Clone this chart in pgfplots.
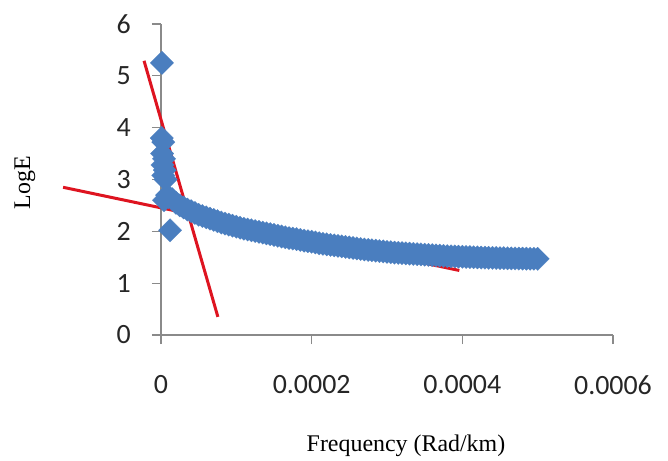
\documentclass[border=0pt]{standalone}
\usepackage{pgfplots}
\pgfplotsset{compat=1.18}
\usepackage{fontspec}
\setmainfont{Liberation Serif}
\newfontfamily\calib{Carlito}
\definecolor{ptblue}{HTML}{4A7EBF}
\definecolor{trendred}{RGB}{222,20,32}
\definecolor{axgray}{HTML}{8A8A8A}
\begin{document}
\begin{tikzpicture}
\path[use as bounding box] (-161bp,-126bp) rectangle (507bp,335bp);
\begin{axis}[
  at={(0,0)}, anchor=origin,
  scale only axis, width=452bp, height=311bp,
  xmin=0, xmax=0.0006, ymin=0, ymax=6,
  clip=false,
  axis lines=left,
  axis line style={-, draw=axgray, line width=1.1bp},
  tick style={draw=axgray, line width=1.1bp},
  tick align=outside,
  major tick length=9bp,
  xtick={0,0.0002,0.0004,0.0006},
  xticklabels={0,0.0002,0.0004,0.0006},
  ytick={0,1,2,3,4,5,6},
  scaled x ticks=false,
  /pgf/number format/assume math mode=true,
  tick label style={font=\calib\fontsize{28}{28}\selectfont, text=black!85},
  xticklabel style={anchor=north, inner sep=0pt, yshift=-31bp},
  yticklabel style={anchor=east, inner sep=0pt, xshift=-21bp},
  xlabel={Frequency (Rad/km)},
  ylabel={LogE},
  label style={font=\fontsize{24}{24}\selectfont},
  xlabel style={at={(axis description cs:0.542,-0.376)}, anchor=base},
  ylabel style={at={(axis description cs:-0.301,0.49)}, anchor=center},
]
\addplot[ptblue, only marks, mark=square*, mark size=8.3bp,
  mark options={rotate=45, fill=ptblue, draw=ptblue, line width=0.1bp}]
  table[row sep=\\] {
x y\\
1.2e-6 5.25\\
1.0e-6 3.80\\
3.0e-6 3.72\\
1.5e-6 3.50\\
4.0e-6 3.40\\
2.0e-6 3.28\\
5.0e-6 3.18\\
3.0e-6 3.08\\
6.0e-6 3.00\\
1.2e-5 2.02\\
4.0e-6 2.60\\
8.0e-6 2.70\\
1.0e-5 2.66\\
1.5e-5 2.62\\
2.0e-5 2.55\\
2.5e-5 2.50\\
3.0e-5 2.46\\
3.5e-5 2.42\\
4.0e-5 2.39\\
4.5e-5 2.355\\
5.0e-5 2.32\\
5.5e-5 2.295\\
6.0e-5 2.27\\
6.5e-5 2.245\\
7.0e-5 2.22\\
7.5e-5 2.195\\
8.0e-5 2.17\\
8.5e-5 2.15\\
9.0e-5 2.13\\
9.5e-5 2.11\\
1.00e-4 2.09\\
1.05e-4 2.07\\
1.10e-4 2.05\\
1.15e-4 2.035\\
1.20e-4 2.02\\
1.25e-4 2.005\\
1.30e-4 1.99\\
1.35e-4 1.975\\
1.40e-4 1.96\\
1.45e-4 1.945\\
1.50e-4 1.93\\
1.55e-4 1.915\\
1.60e-4 1.90\\
1.65e-4 1.885\\
1.70e-4 1.87\\
1.75e-4 1.86\\
1.80e-4 1.85\\
1.85e-4 1.835\\
1.90e-4 1.82\\
1.95e-4 1.81\\
2.00e-4 1.80\\
2.05e-4 1.785\\
2.10e-4 1.77\\
2.15e-4 1.76\\
2.20e-4 1.75\\
2.25e-4 1.74\\
2.30e-4 1.73\\
2.35e-4 1.72\\
2.40e-4 1.71\\
2.45e-4 1.70\\
2.50e-4 1.69\\
2.55e-4 1.68\\
2.60e-4 1.67\\
2.65e-4 1.66\\
2.70e-4 1.65\\
2.75e-4 1.642\\
2.80e-4 1.635\\
2.85e-4 1.627\\
2.90e-4 1.62\\
2.95e-4 1.612\\
3.00e-4 1.605\\
3.05e-4 1.597\\
3.10e-4 1.59\\
3.15e-4 1.585\\
3.20e-4 1.58\\
3.25e-4 1.575\\
3.30e-4 1.57\\
3.35e-4 1.565\\
3.40e-4 1.56\\
3.45e-4 1.555\\
3.50e-4 1.55\\
3.55e-4 1.545\\
3.60e-4 1.54\\
3.65e-4 1.535\\
3.70e-4 1.53\\
3.75e-4 1.526\\
3.80e-4 1.522\\
3.85e-4 1.518\\
3.90e-4 1.515\\
3.95e-4 1.512\\
4.00e-4 1.51\\
4.05e-4 1.506\\
4.10e-4 1.503\\
4.15e-4 1.50\\
4.20e-4 1.497\\
4.25e-4 1.494\\
4.30e-4 1.492\\
4.35e-4 1.49\\
4.40e-4 1.488\\
4.45e-4 1.486\\
4.50e-4 1.484\\
4.55e-4 1.482\\
4.60e-4 1.48\\
4.65e-4 1.478\\
4.70e-4 1.477\\
4.75e-4 1.475\\
4.80e-4 1.474\\
4.85e-4 1.473\\
4.90e-4 1.472\\
4.95e-4 1.471\\
5.00e-4 1.47\\
};
\addplot[trendred, line width=3bp] coordinates {(-0.00013,2.85) (0.000396,1.245)};
\addplot[trendred, line width=3bp] coordinates {(-0.0000225,5.29) (0.0000755,0.35)};
\end{axis}
\end{tikzpicture}
\end{document}
